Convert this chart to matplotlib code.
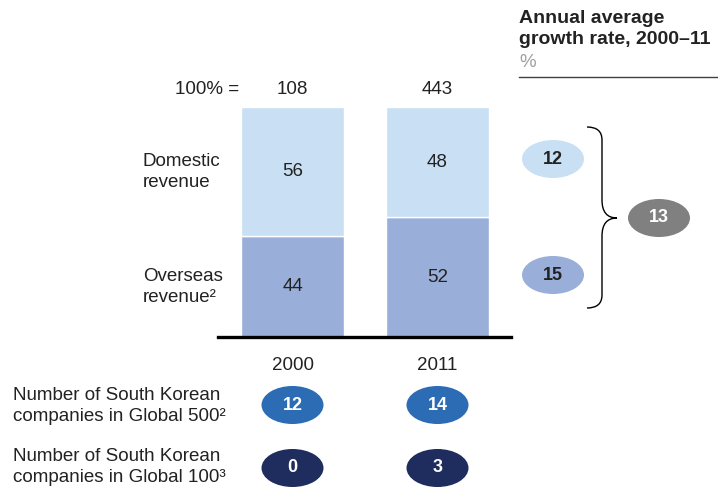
import matplotlib
matplotlib.use("Agg")
import matplotlib.pyplot as plt
from matplotlib.patches import Ellipse, PathPatch
from matplotlib.path import Path

plt.rcParams['font.family'] = ['Liberation Sans', 'DejaVu Sans']

# data
years = ["2000", "2011"]
totals = [108, 443]
overseas = [44, 52]
domestic = [56, 48]
growth_domestic = 12
growth_overseas = 15
growth_total = 13
global500 = [12, 14]
global100 = [0, 3]

c_dom = "#c9e0f4"
c_ovs = "#99afd9"
c_grey = "#808080"
c_blue = "#2b6cb5"
c_navy = "#1f2c5e"
c_text = "#222222"
fs = 13.5

fig = plt.figure(figsize=(7.18, 4.91), dpi=100)

# overlay axes in pixel coordinates for text and badges
ax = fig.add_axes([0, 0, 1, 1])
ax.set_xlim(0, 718)
ax.set_ylim(491, 0)
ax.axis("off")

# bar axes: 0-100 % scale
W, H = 718, 491
bx = fig.add_axes([218 / W, (H - 337) / H, 293 / W, 230 / H])
bx.set_ylim(0, 100)
bx.set_xlim(-0.514, 1.507)
bx.axis("off")
pos = [0, 1]
bx.bar(pos, overseas, width=0.71, color=c_ovs, edgecolor="white", linewidth=1)
bx.bar(pos, domestic, bottom=overseas, width=0.71, color=c_dom, edgecolor="white", linewidth=1)
bx.axhline(0, color="black", linewidth=2.4, clip_on=False)
for i in pos:
    bx.text(i, overseas[i] / 2, str(overseas[i]), ha="center", va="center", fontsize=fs, color=c_text)
    bx.text(i, overseas[i] + domestic[i] / 2, str(domestic[i]), ha="center", va="center",
            fontsize=fs, color=c_text)
    bx.text(i, 104, str(totals[i]), ha="center", va="bottom", fontsize=fs, color=c_text)
    bx.text(i, -8.5, years[i], ha="center", va="top", fontsize=fs, color=c_text)
bx.text(-0.37, 104, "100% =", ha="right", va="bottom", fontsize=fs, color=c_text)

# category labels
ax.text(143, 172, "Domestic\nrevenue", ha="left", va="center", fontsize=fs, color=c_text,
        linespacing=1.35)
ax.text(143, 287, "Overseas\nrevenue\u00b2", ha="left", va="center", fontsize=fs, color=c_text,
        linespacing=1.35)

# header on the right
ax.text(519, 29, "Annual average\ngrowth rate, 2000\u201311", ha="left", va="center",
        fontsize=14, fontweight="bold", color=c_text, linespacing=1.25)
ax.text(519, 62, "%", ha="left", va="center", fontsize=fs, color="#a0a0a0")
ax.plot([519, 718], [77, 77], color="#404040", linewidth=1)


def badge(x, y, label, face, tcolor):
    ax.add_patch(Ellipse((x, y), 62, 38, facecolor=face, edgecolor="none"))
    ax.text(x, y, label, ha="center", va="center", fontsize=13, fontweight="bold", color=tcolor)


badge(553, 159, str(growth_domestic), c_dom, c_text)
badge(553, 275, str(growth_overseas), c_ovs, c_text)
badge(659, 218, str(growth_total), c_grey, "white")

# curly brace
verts = [(587, 127), (602, 127), (602, 140), (602, 140),
         (602, 200), (602, 200),
         (602, 218), (617, 218),
         (602, 218), (602, 236),
         (602, 295), (602, 295),
         (602, 308), (587, 308)]
codes = [Path.MOVETO, Path.CURVE3, Path.CURVE3, Path.LINETO,
         Path.LINETO, Path.LINETO,
         Path.CURVE3, Path.CURVE3,
         Path.CURVE3, Path.CURVE3,
         Path.LINETO, Path.LINETO,
         Path.CURVE3, Path.CURVE3]
ax.add_patch(PathPatch(Path(verts, codes), facecolor="none", edgecolor="black", linewidth=1))

# company counts
ax.text(13, 406, "Number of South Korean\ncompanies in Global 500\u00b2", ha="left", va="center",
        fontsize=fs, color=c_text, linespacing=1.35)
ax.text(13, 467, "Number of South Korean\ncompanies in Global 100\u00b3", ha="left", va="center",
        fontsize=fs, color=c_text, linespacing=1.35)
xs = [292.5, 437.5]
for x, a, b in zip(xs, global500, global100):
    badge(x, 405, str(a), c_blue, "white")
    badge(x, 468, str(b), c_navy, "white")

fig.savefig("out.png", dpi=100)
